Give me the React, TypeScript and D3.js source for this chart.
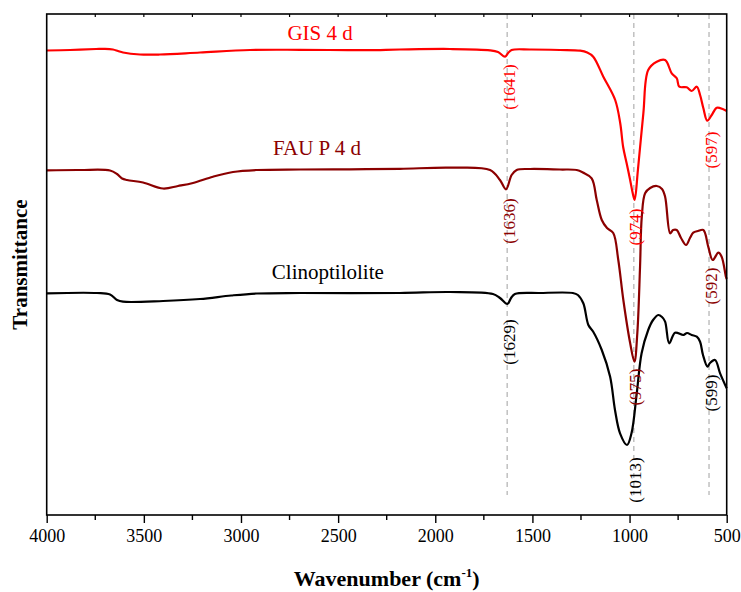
import React, { useRef, useEffect } from "react";
import * as d3 from "d3";

// wavenumber (cm-1) / transmittance (arbitrary, offset per sample)
const gisWave = [4000, 3880, 3746, 3700, 3659, 3633, 3607, 3520, 3417, 3211, 2954, 2696, 2351, 2182, 1924, 1718, 1677, 1641, 1625, 1607, 1512, 1358, 1254, 1218, 1187, 1135, 1074, 1048, 1033, 1015, 997, 985, 974, 957, 929, 904, 860, 817, 783, 757, 744, 706, 680, 654, 637, 620, 600, 577, 551, 518, 500];
const gisT = [464.5, 465, 466, 466.2, 465.5, 464, 462.5, 460.5, 460.5, 462.5, 465, 465.2, 464.8, 465.5, 466, 464.7, 463, 458.3, 462, 465, 465.5, 465, 464.3, 462.5, 458.3, 438.3, 415, 391.7, 368, 351.7, 335, 323, 315, 345, 401.7, 445, 453.3, 455, 441.7, 436.7, 428.3, 427.7, 424, 428.3, 420, 406.7, 394.3, 400, 407.3, 405.7, 404];

const fauWave = [4000, 3829, 3674, 3638, 3612, 3587, 3504, 3401, 3324, 3247, 3144, 3041, 2918, 2696, 2439, 2182, 1924, 1718, 1667, 1636, 1607, 1581, 1512, 1358, 1272, 1240, 1195, 1169, 1143, 1116, 1084, 1058, 1032, 997, 975, 960, 946, 937, 920, 894, 860, 833, 817, 791, 776, 757, 735, 709, 689, 672, 648, 620, 595, 572, 543, 526, 504, 500];
const fauT = [344.7, 345, 344.5, 341, 336.5, 335, 332.5, 326.5, 329, 332, 338.3, 343, 345, 345.5, 345.7, 346.2, 347.3, 345, 335, 325.7, 340, 345, 346, 345.5, 345, 342.5, 336.7, 315, 295, 287, 282, 255, 215, 172, 153.3, 182, 248.3, 298.3, 321.7, 327, 329, 326, 318.3, 281.7, 285, 285, 277, 270, 277, 282.3, 284, 285, 268.3, 255, 262.3, 258.3, 238.3, 236];

const clinoWave = [4000, 3741, 3674, 3638, 3607, 3401, 3211, 3050, 2918, 2696, 2182, 1924, 1703, 1667, 1629, 1610, 1590, 1461, 1292, 1266, 1238, 1212, 1187, 1143, 1100, 1075, 1049, 1013, 990, 963, 938, 904, 879, 852, 833, 817, 796, 766, 723, 704, 680, 654, 637, 622, 599, 586, 560, 534, 500];
const clinoT = [221.7, 222, 220.5, 215, 213.3, 214, 216, 219.5, 221.5, 222, 222, 223, 221, 217, 211, 217, 221, 222, 222, 220, 211.7, 190, 183.3, 165, 138.3, 105, 81.7, 70, 81.7, 121.7, 161.7, 185, 195, 200, 198, 193.3, 171.7, 182.3, 180, 182, 180, 178.3, 173.3, 160, 148.3, 152, 155, 141.7, 126.7];

const seriesNames = ["GIS 4 d", "FAU P 4 d", "Clinoptilolite"];
const seriesColors = ["#ff0000", "#8b0000", "#000000"];
// where each sample name sits: wavenumber of its centre, height of its baseline
const nameWave = [2593, 2609, 2553];
const nameLevel = [475, 360, 236];

// peak labels: guide line index, label text, centre height
const guideLines = [1630, 978, 591];
const peakLabels = ["(1641)", "(974)", "(597)", "(1636)", "(975)", "(592)", "(1629)", "(1013)", "(599)"];
const peakGuide = [0, 1, 2, 0, 1, 2, 0, 1, 2];
const peakSeries = [0, 0, 0, 1, 1, 1, 2, 2, 2];
const peakLevel = [428, 288, 365, 294, 128, 229, 173, 35, 122];

const xTicks = [4000, 3500, 3000, 2500, 2000, 1500, 1000, 500];

const App = () => {
  const chartRef = useRef(null);

  useEffect(() => {
    const W = 741;
    const H = 592;
    const margin = { top: 14, right: 14.3, bottom: 77, left: 46.7 };
    const width = W - margin.left - margin.right;
    const height = H - margin.top - margin.bottom;
    const font = '"Liberation Serif", "Times New Roman", serif';

    const root = d3
      .select(chartRef.current)
      .append("svg")
      .attr("width", W)
      .attr("height", H)
      .style("position", "absolute")
      .style("left", 0)
      .style("top", 0)
      .style("background", "#fff");

    const svg = root
      .append("g")
      .attr("transform", `translate(${margin.left},${margin.top})`);

    const x = d3.scaleLinear().domain([4000, 500]).range([0, width]);
    const y = d3.scaleLinear().domain([0, height]).range([height, 0]);

    // guide lines
    svg
      .selectAll(".guide")
      .data(guideLines)
      .enter()
      .append("line")
      .attr("x1", (d) => x(d))
      .attr("x2", (d) => x(d))
      .attr("y1", 0)
      .attr("y2", y(20))
      .attr("stroke", "#b0b0b0")
      .attr("stroke-width", 1.2)
      .attr("stroke-dasharray", "5,4");

    const line = d3
      .line()
      .x((d) => x(d[0]))
      .y((d) => y(d[1]))
      .curve(d3.curveCatmullRom.alpha(0.5));

    const series = [
      d3.zip(gisWave, gisT),
      d3.zip(fauWave, fauT),
      d3.zip(clinoWave, clinoT),
    ];

    series.forEach((s, i) => {
      svg
        .append("path")
        .datum(s)
        .attr("d", line)
        .attr("fill", "none")
        .attr("stroke", seriesColors[i])
        .attr("stroke-width", 2.2)
        .attr("stroke-linejoin", "round");

      svg
        .append("text")
        .attr("x", x(nameWave[i]))
        .attr("y", y(nameLevel[i]))
        .attr("text-anchor", "middle")
        .attr("fill", seriesColors[i])
        .style("font-family", font)
        .style("font-size", "21px")
        .text(seriesNames[i]);
    });

    peakLabels.forEach((label, i) => {
      const px = x(guideLines[peakGuide[i]]) + 2;
      const py = y(peakLevel[i]);
      svg
        .append("text")
        .attr("transform", `translate(${px},${py}) rotate(-90)`)
        .attr("text-anchor", "middle")
        .attr("dominant-baseline", "central")
        .attr("fill", seriesColors[peakSeries[i]])
        .style("font-family", font)
        .style("font-size", "17px")
        .text(label);
    });

    // frame
    svg
      .append("rect")
      .attr("width", width)
      .attr("height", height)
      .attr("fill", "none")
      .attr("stroke", "#000")
      .attr("stroke-width", 1.6);

    const bottom = svg
      .append("g")
      .attr("transform", `translate(0,${height})`)
      .call(
        d3
          .axisBottom(x)
          .tickValues(xTicks)
          .tickSize(8)
          .tickPadding(6)
          .tickFormat(d3.format("d"))
      )
      .attr("font-family", font)
      .attr("font-size", 18);
    bottom.select(".domain").remove();
    bottom.selectAll("line").attr("stroke-width", 1.4);
    bottom
      .selectAll("text")
      .style("font-family", font)
      .style("font-size", "18px")
      .attr("fill", "#000");

    const minor = d3.range(3750, 500, -500);
    svg
      .selectAll(".minor")
      .data(minor)
      .enter()
      .append("line")
      .attr("x1", (d) => x(d))
      .attr("x2", (d) => x(d))
      .attr("y1", height)
      .attr("y2", height + 5)
      .attr("stroke", "#000")
      .attr("stroke-width", 1.4);

    svg
      .selectAll(".top-tick")
      .data(d3.range(3750, 500, -250))
      .enter()
      .append("line")
      .attr("x1", (d) => x(d))
      .attr("x2", (d) => x(d))
      .attr("y1", 0)
      .attr("y2", 3)
      .attr("stroke", "#000")
      .attr("stroke-width", 1.2);

    const xLabel = root
      .append("text")
      .attr("x", margin.left + width / 2)
      .attr("y", 586)
      .attr("text-anchor", "middle")
      .style("font-family", font)
      .style("font-size", "22px")
      .style("font-weight", "bold")
      .text("Wavenumber (cm");
    xLabel.append("tspan").attr("dy", -9).style("font-size", "13px").text("-1");
    xLabel.append("tspan").attr("dy", 9).text(")");

    root
      .append("text")
      .attr("transform", `translate(27,${margin.top + height / 2}) rotate(-90)`)
      .attr("text-anchor", "middle")
      .style("font-family", font)
      .style("font-size", "21px")
      .style("font-weight", "bold")
      .text("Transmittance");

    return () => {
      if (chartRef.current) chartRef.current.innerHTML = "";
    };
  }, []);

  return <div ref={chartRef}></div>;
};

export default App;
